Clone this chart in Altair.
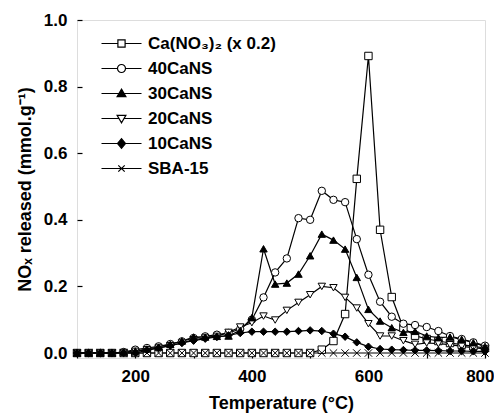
import altair as alt
import pandas as pd

temps = list(range(100, 801, 20))

series_names = ["Ca(NO₃)₂ (x 0.2)", "40CaNS", "30CaNS", "20CaNS", "10CaNS", "SBA-15"]

ca_no3 = [0, 0, 0, 0, 0, 0, 0, 0, 0, 0, 0, 0, 0, 0, 0, 0, 0, 0, 0, 0, 0,
          0.01, 0.036, 0.117, 0.523, 0.892, 0.37, 0.168, 0.075, 0.052, 0.042,
          0.036, 0.03, 0.025, 0.02, 0.015]
ca40 = [0, 0, 0, 0, 0.003, 0.01, 0.015, 0.02, 0.027, 0.035, 0.045, 0.05, 0.055,
        0.06, 0.072, 0.10, 0.167, 0.242, 0.284, 0.405, 0.40, 0.487, 0.46, 0.453,
        0.342, 0.235, 0.154, 0.109, 0.088, 0.084, 0.078, 0.066, 0.051, 0.042,
        0.032, 0.022]
ca30 = [0, 0, 0, 0, 0.003, 0.006, 0.012, 0.018, 0.026, 0.036, 0.048, 0.048, 0.05,
        0.051, 0.068, 0.106, 0.313, 0.207, 0.21, 0.237, 0.292, 0.357, 0.339, 0.312,
        0.227, 0.131, 0.096, 0.076, 0.062, 0.065, 0.051, 0.046, 0.048, 0.041,
        0.031, 0.02]
ca20 = [0, 0, 0, 0, 0, 0.005, 0.01, 0.015, 0.022, 0.03, 0.04, 0.045, 0.05, 0.062,
        0.078, 0.091, 0.111, 0.099, 0.128, 0.152, 0.175, 0.2, 0.196, 0.167, 0.135,
        0.088, 0.051, 0.051, 0.037, 0.026, 0.03, 0.028, 0.025, 0.02, 0.016, 0.012]
ca10 = [0, 0, 0, 0, 0, 0, 0.008, 0.015, 0.022, 0.03, 0.037, 0.043, 0.048, 0.053,
        0.06, 0.064, 0.064, 0.064, 0.064, 0.066, 0.068, 0.066, 0.058, 0.049, 0.032,
        0.019, 0.012, 0.01, 0.009, 0.008, 0.008, 0.007, 0.006, 0.006, 0.005, 0.005]
sba15 = [0] * 36

values = [ca_no3, ca40, ca30, ca20, ca10, sba15]
draw_order = ["Ca(NO₃)₂ (x 0.2)", "40CaNS", "20CaNS", "30CaNS", "SBA-15", "10CaNS"]

rows = []
for name in draw_order:
    vals = values[series_names.index(name)]
    for t, v in zip(temps, vals):
        rows.append({"series": name, "T": t, "v": v})
df = pd.DataFrame(rows)

legend_df = pd.DataFrame({"series": series_names, "T": [0] * 6, "v": [0.5] * 6})

FONT = "Liberation Sans"

marker_shapes = ["square", "circle", "triangle-up", "triangle-down", "diamond",
                 "M-1,-1L1,1M-1,1L1,-1"]
marker_fills = ["white", "white", "black", "white", "black", "white"]

legend_shapes = [
    "M-5,0H-0.9M0.9,0H5M-0.9,-0.9H0.9V0.9H-0.9Z",
    "M-5,0H-1M1,0H5M-1,0A1,1,0,1,1,1,0A1,1,0,1,1,-1,0Z",
    "M-5,0H5M0,-1.1L1.1,0.8H-1.1Z",
    "M-5,0H-0.65M0.65,0H5M-1.1,-0.8H1.1L0,1.1Z",
    "M-5,0H5M0,-1.2L1,0L0,1.2L-1,0Z",
    "M-5,0H5M-0.8,-0.8L0.8,0.8M-0.8,0.8L0.8,-0.8",
]

x_enc = alt.X(
    "T:Q",
    scale=alt.Scale(domain=[100, 800], nice=False),
    axis=alt.Axis(
        title="Temperature (°C)",
        values=list(range(100, 801, 100)),
        labelExpr="datum.value % 200 == 0 ? datum.value : ''",
        grid=False, domain=False, offset=-5, tickSize=5, tickColor="black",
        tickWidth=1.2, labelFont=FONT, labelFontSize=17, labelFontWeight="bold",
        labelColor="black", labelPadding=10, labelFlush=True, labelFlushOffset=9,
        titleFont=FONT, titleFontSize=18, titleFontWeight="bold",
        titleColor="black", titlePadding=10,
    ),
)
y_enc = alt.Y(
    "v:Q",
    scale=alt.Scale(domain=[-0.015, 1.0], nice=False),
    axis=alt.Axis(
        title="NOₓ released (mmol.g⁻¹)",
        values=[round(i * 0.1, 1) for i in range(11)],
        labelExpr="round(datum.value * 10) % 2 == 0 ? format(datum.value, '.1f') : ''",
        grid=False, domain=False, offset=-5, tickSize=5, tickColor="black",
        tickWidth=1.2, labelFont=FONT, labelFontSize=17, labelFontWeight="bold",
        labelColor="black", labelPadding=10, labelFlush=False,
        titleFont=FONT, titleFontSize=18, titleFontWeight="bold",
        titleColor="black", titlePadding=9,
    ),
)

lines = alt.Chart(df).mark_line(color="black", strokeWidth=1.2).encode(
    x=x_enc, y=y_enc, detail="series:N"
)

points = alt.Chart(df).mark_point(filled=True, stroke="black", strokeWidth=1,
                                  size=55, opacity=1).encode(
    x=x_enc, y=y_enc,
    shape=alt.Shape("series:N", scale=alt.Scale(domain=series_names, range=marker_shapes), legend=None),
    fill=alt.Fill("series:N", scale=alt.Scale(domain=series_names, range=marker_fills), legend=None),
)

leg = alt.Legend(
    title=None, orient="none", legendX=36, legendY=15,
    labelFont=FONT, labelFontSize=17, labelFontWeight="bold", labelColor="black",
    labelOffset=18, rowPadding=7, symbolSize=64, padding=0,
    symbolStrokeWidth=1.2, symbolOpacity=1,
)

legend_layer = alt.Chart(legend_df).mark_point(
    filled=True, strokeWidth=1.2, size=64, clip=True, opacity=1
).encode(
    x=alt.X("T:Q"), y=alt.Y("v:Q"),
    shape=alt.Shape("series:N", scale=alt.Scale(domain=series_names, range=legend_shapes), legend=leg),
    fill=alt.Fill("series:N", scale=alt.Scale(domain=series_names, range=marker_fills), legend=leg),
    stroke=alt.Stroke("series:N", scale=alt.Scale(domain=series_names, range=["black"] * 6), legend=leg),
)

chart = alt.layer(lines, points, legend_layer).resolve_scale(
    shape="independent", fill="independent", stroke="independent"
).properties(
    width=408, height=338,
    autosize=alt.AutoSizeParams(type="none"),
    padding={"left": 69, "top": 12, "right": 9, "bottom": 58},
).configure_view(stroke="black", strokeWidth=1.5).configure(background="white")

chart.save("out.html", embed_options={"renderer": "svg", "actions": False})
